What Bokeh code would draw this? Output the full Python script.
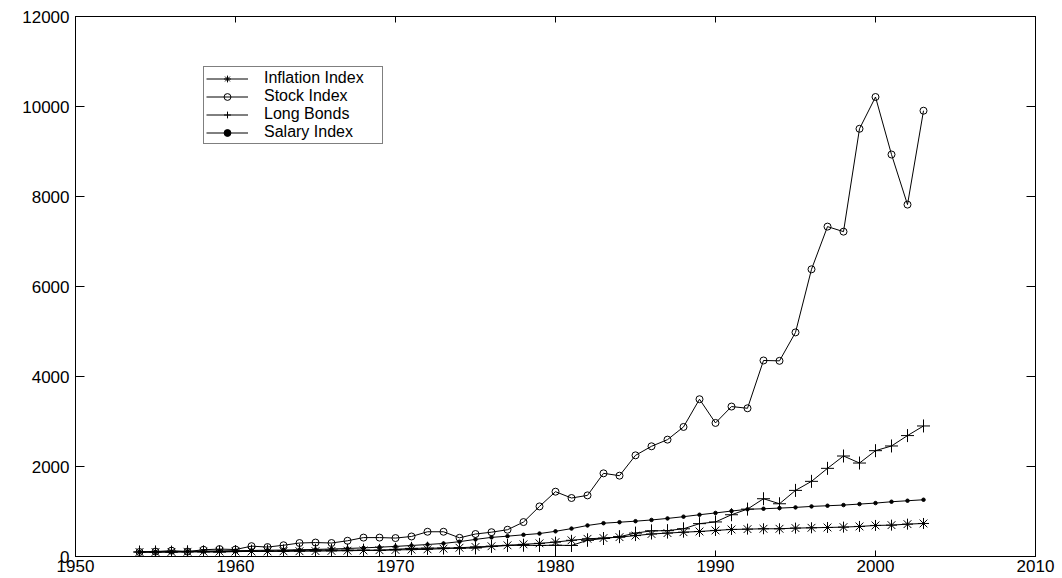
from bokeh.plotting import figure
from bokeh.models import LinearAxis, FixedTicker, Legend, LegendItem, Range1d
from bokeh.embed import file_html
from bokeh.resources import INLINE

years = list(range(1954, 2004))

inflation = [100, 100, 102, 105, 108, 109, 111, 112, 113, 115,
             117, 120, 124, 129, 134, 140, 146, 153, 160, 175,
             195, 212, 228, 248, 270, 292, 320, 360, 393, 410,
             430, 465, 500, 520, 540, 556, 579, 601, 608, 616,
             616, 631, 638, 645, 653, 668, 690, 697, 719, 734]

stock = [100, 110, 130, 110, 150, 165, 155, 230, 210, 250,
         300, 310, 300, 350, 420, 420, 410, 445, 550, 550,
         415, 500, 540, 595, 765, 1113, 1440, 1300, 1358, 1848,
         1796, 2248, 2449, 2597, 2879, 3495, 2968, 3332, 3294, 4356,
         4348, 4980, 6382, 7331, 7219, 9505, 10211, 8933, 7820, 9906]

bonds = [100, 101, 98, 105, 103, 99, 110, 118, 122, 126,
         138, 139, 142, 140, 141, 136, 158, 180, 185, 188,
         183, 190, 225, 245, 250, 245, 250, 245, 360, 400,
         440, 520, 570, 575, 616, 730, 768, 928, 1053, 1284,
         1172, 1469, 1670, 1959, 2233, 2077, 2352, 2456, 2687, 2901]

salary = [100, 104, 109, 115, 120, 125, 130, 134, 139, 144,
          150, 157, 167, 178, 192, 207, 224, 245, 266, 290,
          330, 380, 425, 452, 482, 510, 560, 620, 690, 740,
          762, 785, 812, 846, 885, 928, 968, 1010, 1050, 1061,
          1076, 1091, 1113, 1128, 1143, 1165, 1187, 1217, 1239, 1261]

series_names = ["Inflation Index", "Stock Index", "Long Bonds", "Salary Index"]
x_ticks = [1950, 1960, 1970, 1980, 1990, 2000, 2010]
y_ticks = [0, 2000, 4000, 6000, 8000, 10000, 12000]

FONT = "Liberation Sans"
FS = "17px"

p = figure(width=1058, height=578, output_backend="svg", toolbar_location=None,
           x_range=Range1d(1950, 2010), y_range=Range1d(0, 12000),
           min_border_left=75, min_border_right=23, min_border_top=16, min_border_bottom=22,
           x_axis_location=None, y_axis_location=None)
p.background_fill_color = "white"
p.border_fill_color = "white"
p.outline_line_color = "black"
p.outline_line_width = 1
p.xgrid.visible = False
p.ygrid.visible = False


def style(ax, tick_len, show_labels):
    ax.axis_line_color = "black"
    ax.axis_line_width = 1
    ax.major_tick_line_color = "black"
    ax.major_tick_in = tick_len
    ax.major_tick_out = 0
    ax.minor_tick_line_color = None
    ax.major_label_text_font = FONT
    ax.major_label_text_color = "black"
    if show_labels:
        ax.major_label_text_font_size = FS
    else:
        ax.major_label_text_font_size = "0px"
        ax.major_label_text_color = None
        ax.major_label_standoff = 0


xb = LinearAxis(ticker=FixedTicker(ticks=x_ticks))
style(xb, 6, True)
xb.major_label_standoff = 3
p.add_layout(xb, "below")

xa = LinearAxis(ticker=FixedTicker(ticks=x_ticks))
style(xa, 6, False)
p.add_layout(xa, "above")

yl = LinearAxis(ticker=FixedTicker(ticks=y_ticks))
style(yl, 9, True)
yl.major_label_standoff = 6
p.add_layout(yl, "left")

yr = LinearAxis(ticker=FixedTicker(ticks=y_ticks))
style(yr, 9, False)
p.add_layout(yr, "right")

items = []

l1 = p.line(years, inflation, line_color="black", line_width=1)
m1 = p.scatter(years, inflation, marker="asterisk", size=11, line_color="black", line_width=1)
items.append(LegendItem(label=series_names[0], renderers=[l1, m1]))

l2 = p.line(years, stock, line_color="black", line_width=1)
m2 = p.scatter(years, stock, marker="circle", size=7, line_color="black", fill_color=None, line_width=1)
items.append(LegendItem(label=series_names[1], renderers=[l2, m2]))

l3 = p.line(years, bonds, line_color="black", line_width=1)
m3 = p.scatter(years, bonds, marker="cross", size=13, line_color="black", line_width=1)
items.append(LegendItem(label=series_names[2], renderers=[l3, m3]))

l4 = p.line(years, salary, line_color="black", line_width=1)
m4 = p.scatter(years, salary, marker="circle", size=3.5, line_color="black", fill_color="black")
items.append(LegendItem(label=series_names[3], renderers=[l4, m4]))

legend = Legend(items=items, location=(128, 412), orientation="vertical",
                label_text_font=FONT, label_text_font_size="16px", label_text_color="black",
                label_height=17, glyph_height=17, glyph_width=42, label_standoff=16,
                label_width=116, spacing=0, padding=2, margin=0,
                border_line_color="black", border_line_width=1,
                background_fill_color="white", background_fill_alpha=1)
p.add_layout(legend, "center")

open("out.html", "w").write(file_html(p, INLINE))
